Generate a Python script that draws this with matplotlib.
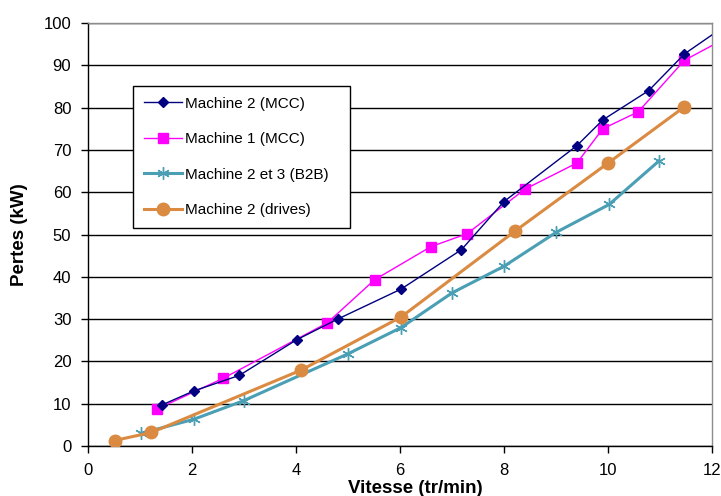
import matplotlib
matplotlib.use("Agg")
import matplotlib.pyplot as plt

plt.rcParams['font.family'] = ['Liberation Sans', 'DejaVu Sans']

# donnees
vit_m2_mcc = [1.42, 2.03, 2.91, 4.01, 4.80, 6.02, 7.18, 8.00, 9.40, 9.90, 10.78, 11.47, 12.40]
pertes_m2_mcc = [9.7, 13.0, 16.7, 25.1, 30.0, 37.1, 46.4, 57.8, 71.0, 77.1, 84.0, 92.7, 100.6]

vit_m1_mcc = [1.32, 2.60, 4.60, 5.51, 6.59, 7.29, 8.40, 9.40, 9.90, 10.58, 11.47, 12.40]
pertes_m1_mcc = [8.7, 16.0, 29.1, 39.3, 47.1, 50.2, 60.7, 66.9, 75.0, 79.0, 91.2, 97.3]

vit_b2b = [1.02, 2.03, 2.99, 5.00, 6.02, 7.00, 8.00, 9.00, 10.02, 10.98]
pertes_b2b = [3.0, 6.3, 10.7, 21.8, 28.0, 36.2, 42.5, 50.5, 57.1, 67.4]

vit_drives = [0.51, 1.22, 4.09, 6.02, 8.21, 9.99, 11.47]
pertes_drives = [1.3, 3.2, 17.9, 30.5, 50.8, 66.8, 80.2]

xticks = [0, 2, 4, 6, 8, 10, 12]
yticks = [0, 10, 20, 30, 40, 50, 60, 70, 80, 90, 100]

fig = plt.figure(figsize=(7.21, 4.96), dpi=100)
ax = fig.add_axes([0.1221, 0.1008, 0.8655, 0.8528])

ax.plot(vit_m2_mcc, pertes_m2_mcc, color='#000080', lw=1.0, marker='D',
        markersize=5, label='Machine 2 (MCC)', zorder=5)
ax.plot(vit_m1_mcc, pertes_m1_mcc, color='#FF00FF', lw=1.0, marker='s',
        markersize=7, label='Machine 1 (MCC)', zorder=4)
ax.plot(vit_b2b, pertes_b2b, color='#4A9FB5', lw=2.2, marker=(6, 2, 0),
        markersize=9, markeredgewidth=1.0, label='Machine 2 et 3 (B2B)', zorder=3)
ax.plot(vit_drives, pertes_drives, color='#DB8A41', lw=2.2, marker='o',
        markersize=9, label='Machine 2 (drives)', zorder=3)

ax.set_xlim(0, 12)
ax.set_ylim(0, 100)
ax.set_xticks(xticks)
ax.set_yticks(yticks)
ax.yaxis.grid(True, color='black', lw=1.0)
ax.set_axisbelow(True)

for s in ['top', 'right']:
    ax.spines[s].set_color('#8c8c8c')
    ax.spines[s].set_linewidth(1.0)
for s in ['left', 'bottom']:
    ax.spines[s].set_color('black')
    ax.spines[s].set_linewidth(1.0)

ax.tick_params(axis='both', direction='out', length=5, width=1, labelsize=12)
ax.tick_params(axis='y', pad=7)
ax.tick_params(axis='x', pad=7)

ax.set_xlabel('Vitesse (tr/min)', fontsize=13.5, fontweight='bold')
ax.xaxis.set_label_coords(0.524, -0.081)
ax.set_ylabel('Pertes (kW)', fontsize=13.5, fontweight='bold')
ax.yaxis.set_label_coords(-0.096, 0.5)

leg = ax.legend(loc='upper left', bbox_to_anchor=(0.072, 0.515, 0.348, 0.336),
                mode='expand', fontsize=11, frameon=True, fancybox=False,
                framealpha=1, edgecolor='black', borderaxespad=0,
                labelspacing=1.40, handlelength=2.5, handletextpad=0.2,
                borderpad=0.7)
leg.get_frame().set_linewidth(1.0)

plt.savefig('out.png', dpi=100)
